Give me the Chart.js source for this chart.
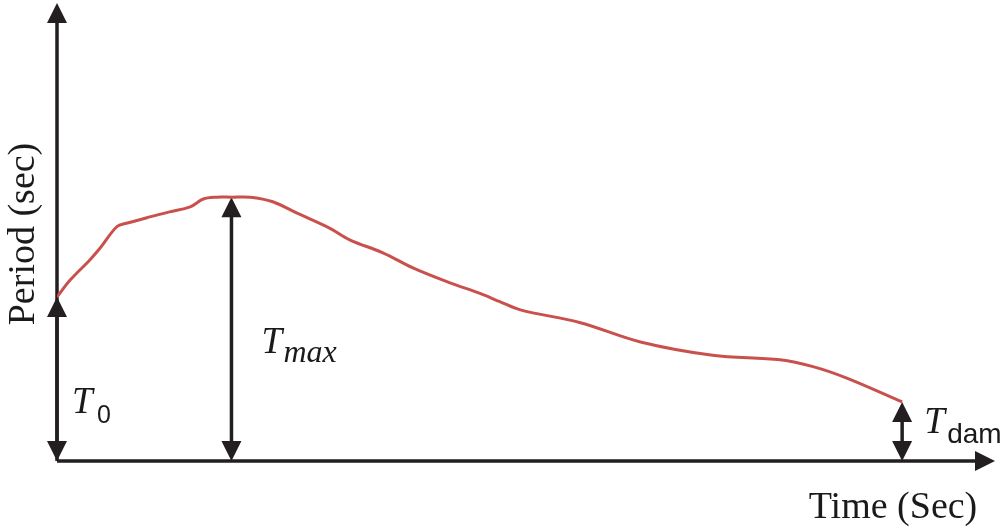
<!DOCTYPE html>
<html>
<head>
<meta charset="utf-8">
<script src="https://cdn.jsdelivr.net/npm/chart.js@4.4.1/dist/chart.umd.min.js"></script>
<style>
  html, body { margin: 0; padding: 0; background: #ffffff; }
  #wrap { width: 1003px; height: 530px; position: relative; }
</style>
</head>
<body>
<div id="wrap"><canvas id="period_canvas"></canvas></div>
<script>
// time axis in arbitrary units (0..100), period in arbitrary units (0..100)
const timeValues = [0, 1.4, 3.5, 4.6, 6.4, 7.4, 9.9, 12.0, 14.2, 15.6, 17.0, 18.6, 20.6, 23.0, 25.6, 29.1, 31.2, 34.8, 38.0, 41.9, 45.1, 47.2, 49.4, 55.8, 62.2, 69.9, 77.1, 80.6, 84.2, 90.1]
const periodValues = [35.8, 39.5, 43.9, 46.5, 51.2, 51.9, 53.3, 54.4, 55.5, 57.2, 57.6, 57.6, 57.6, 56.6, 54.1, 50.8, 48.3, 45.4, 42.1, 38.9, 36.6, 34.8, 33.0, 30.2, 26.0, 23.1, 22.1, 20.6, 18.1, 12.9]

// markers: index into the series where the double arrows stand
const markerIndex = [0, 11, 29]
const markerMain = ["T", "T", "T"]
const markerSub = ["0", "max", "dam"]

const ink = "#231f20"

function arrow_head(ctx, x, y, dir, size) {
  // dir: "up", "down", "right"
  const h = size, w = size / 2
  ctx.beginPath()
  if (dir === "up") {
    ctx.moveTo(x, y); ctx.lineTo(x - w, y + h); ctx.lineTo(x + w, y + h)
  } else if (dir === "down") {
    ctx.moveTo(x, y); ctx.lineTo(x - w, y - h); ctx.lineTo(x + w, y - h)
  } else {
    ctx.moveTo(x, y); ctx.lineTo(x - h, y - w); ctx.lineTo(x - h, y + w)
  }
  ctx.closePath()
  ctx.fill()
}

const sketchPlugin = {
  id: "sketch",
  beforeDatasetsDraw(chart) {
    const ctx = chart.ctx
    const xs = chart.scales.x, ys = chart.scales.y
    const x0 = xs.getPixelForValue(0), y0 = ys.getPixelForValue(0)
    const area = chart.chartArea
    ctx.save()
    ctx.strokeStyle = ink
    ctx.fillStyle = ink
    ctx.lineWidth = 3.5
    // axes
    ctx.beginPath()
    ctx.moveTo(x0, y0); ctx.lineTo(x0, area.top + 15)
    ctx.moveTo(x0, y0); ctx.lineTo(area.right - 15, y0)
    ctx.stroke()
    arrow_head(ctx, x0, area.top, "up", 20)
    arrow_head(ctx, area.right, y0, "right", 20)

    // double arrows
    markerIndex.forEach((idx) => {
      const px = xs.getPixelForValue(timeValues[idx])
      const top = ys.getPixelForValue(periodValues[idx])
      ctx.lineWidth = 3.5
      ctx.beginPath()
      ctx.moveTo(px, top + 15); ctx.lineTo(px, y0 - 15)
      ctx.stroke()
      arrow_head(ctx, px, top, "up", 20)
      arrow_head(ctx, px, y0, "down", 20)
    })
    ctx.restore()
  },
  afterDraw(chart) {
    const ctx = chart.ctx
    const xs = chart.scales.x, ys = chart.scales.y
    ctx.save()
    ctx.fillStyle = "#1a1a1a"
    ctx.textBaseline = "alphabetic"

    // axis titles
    ctx.font = "38px 'Liberation Serif'"
    ctx.textAlign = "center"
    ctx.fillText("Time (Sec)", 893, 518)
    ctx.save()
    ctx.translate(34, 234)
    ctx.rotate(-Math.PI / 2)
    ctx.fillText("Period (sec)", 0, 0)
    ctx.restore()

    // marker labels
    ctx.textAlign = "left"
    const y0 = ys.getPixelForValue(0)
    const px0 = xs.getPixelForValue(timeValues[markerIndex[0]])
    const px1 = xs.getPixelForValue(timeValues[markerIndex[1]])
    const px2 = xs.getPixelForValue(timeValues[markerIndex[2]])

    ctx.font = "italic 37px 'Liberation Serif'"
    ctx.fillText(markerMain[0], px0 + 15, y0 - 48)
    ctx.font = "25px 'Liberation Sans'"
    ctx.fillText(markerSub[0], px0 + 40, y0 - 38)

    ctx.font = "italic 37px 'Liberation Serif'"
    ctx.fillText(markerMain[1], px1 + 30, y0 - 108)
    ctx.font = "italic 32px 'Liberation Serif'"
    ctx.fillText(markerSub[1], px1 + 52, y0 - 99)

    ctx.font = "italic 37px 'Liberation Serif'"
    ctx.fillText(markerMain[2], px2 + 22, y0 - 28)
    ctx.font = "28px 'Liberation Sans'"
    ctx.fillText(markerSub[2], px2 + 45, y0 - 18)
    ctx.restore()
  }
}

window.addEventListener("DOMContentLoaded", () => {
  const points = timeValues.map((t, i) => ({ x: t, y: periodValues[i] }))

  new Chart(document.getElementById("period_canvas").getContext("2d"), {
    type: "line",
    data: {
      datasets: [
        {
          label: "Period",
          data: points,
          fill: false,
          borderColor: "#c9504c",
          borderWidth: 3,
          pointRadius: 0,
          tension: 0.35,
        },
      ],
    },
    options: {
      responsive: true,
      maintainAspectRatio: false,
      animation: false,
      layout: { padding: { left: 57, right: 8, top: 3, bottom: 69 } },
      plugins: { legend: { display: false }, tooltip: { enabled: false } },
      scales: {
        x: { type: "linear", min: 0, max: 100, display: false },
        y: { type: "linear", min: 0, max: 100, display: false },
      },
    },
    plugins: [sketchPlugin],
  })
})
</script>
</body>
</html>
